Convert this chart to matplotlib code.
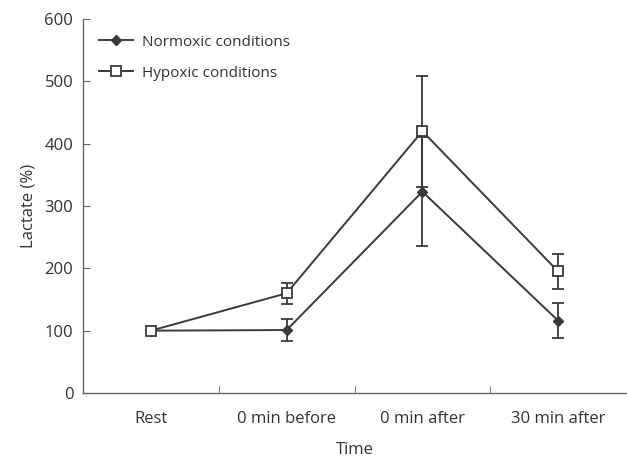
import matplotlib.pyplot as plt
import numpy as np

plt.rcParams['font.family'] = ['Open Sans', 'DejaVu Sans']

categories = ['Rest', '0 min before', '0 min after', '30 min after']
normoxic = [100, 101, 323, 116]
normoxic_err = [0, 18, 87, 28]
hypoxic = [100, 160, 420, 195]
hypoxic_err = [0, 17, 89, 28]

x = np.arange(len(categories)) + 0.5
col = '#3a3a3a'
axcol = '#666666'
txtcol = '#333333'

fig = plt.figure(figsize=(6.27, 4.61), dpi=100)
ax = fig.add_axes([0.1324, 0.1475, 0.866, 0.8113])

ax.errorbar(x, normoxic, yerr=normoxic_err, color=col, marker='D', markersize=5.5,
            lw=1.4, capsize=4, capthick=1.3, elinewidth=1.3, label='Normoxic conditions', zorder=3)
ax.errorbar(x, hypoxic, yerr=hypoxic_err, color=col, marker='s', markersize=7.5,
            markerfacecolor='white', markeredgewidth=1.3, lw=1.4, capsize=4, capthick=1.3,
            elinewidth=1.3, label='Hypoxic conditions', zorder=4)

ax.set_xlim(0, 4)
ax.set_ylim(0, 600)
ax.set_yticks(range(0, 601, 100))
ax.set_xticks(x)
ax.set_xticklabels(categories)
ax.set_xticks([1, 2, 3], minor=True)
ax.tick_params(axis='x', which='major', length=0, pad=13, labelsize=12, labelcolor=txtcol)
ax.tick_params(axis='x', which='minor', direction='in', length=5, color=axcol)
ax.tick_params(axis='y', direction='in', length=5, color=axcol, labelsize=12,
               labelcolor=txtcol, pad=7)

for s in ['top', 'right']:
    ax.spines[s].set_visible(False)
for s in ['left', 'bottom']:
    ax.spines[s].set_color(axcol)
    ax.spines[s].set_linewidth(1.0)

ax.set_xlabel('Time', fontsize=12, color=txtcol, labelpad=11)
ax.set_ylabel('Lactate (%)', fontsize=12, color=txtcol, labelpad=6)

handles, labels = ax.get_legend_handles_labels()
handles = [h[0] for h in handles]
ax.legend(handles, labels, loc='upper left', bbox_to_anchor=(0.005, 0.995), frameon=False,
          fontsize=11, handlelength=2.2, labelspacing=1.05, handletextpad=0.6,
          labelcolor=txtcol)

fig.savefig('out.png', dpi=100)
